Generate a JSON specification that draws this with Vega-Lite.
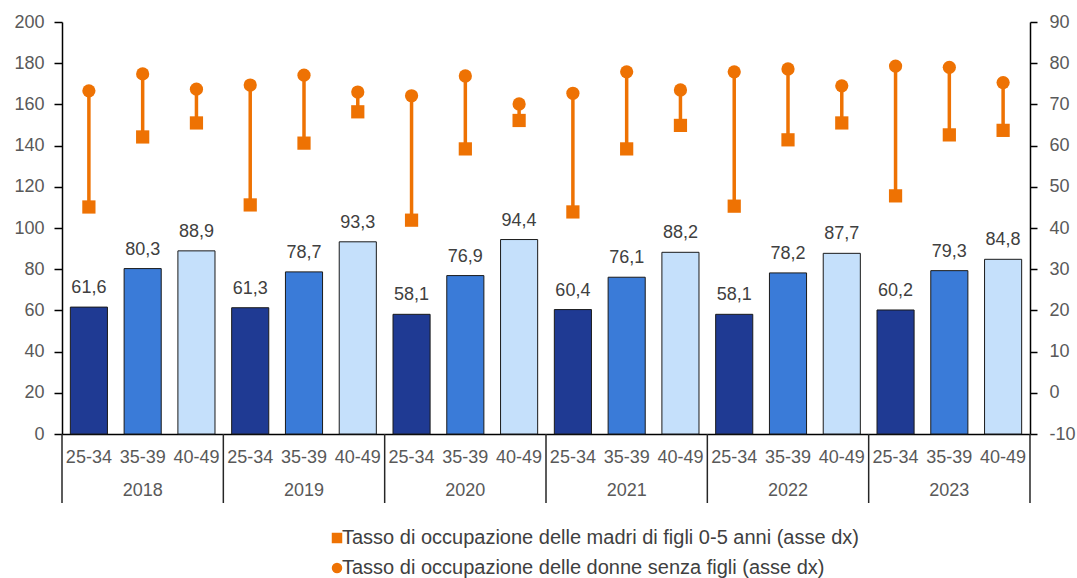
{
  "$schema": "https://vega.github.io/schema/vega-lite/v6.json",
  "autosize": {"type": "none"},
  "width": 968,
  "height": 412,
  "padding": {"left": 62, "top": 22, "right": 47, "bottom": 144},
  "background": "#ffffff",
  "config": {
    "view": {"stroke": null},
    "font": "Liberation Sans",
    "locale": {
      "number": {"decimal": ",", "thousands": ".", "grouping": [3], "currency": ["", " €"], "minus": "-"}
    },
    "axis": {
      "labelFont": "Liberation Sans",
      "labelFontSize": 18,
      "labelColor": "#595959",
      "domainColor": "#000000",
      "tickColor": "#000000",
      "grid": false,
      "title": null
    }
  },
  "datasets": {
    "occupazione": [
      {"cat": "2018|25-34", "year": "2018", "age": "25-34", "occ": 61.6, "madri": 45.1, "donne": 73.3},
      {"cat": "2018|35-39", "year": "2018", "age": "35-39", "occ": 80.3, "madri": 62.1, "donne": 77.4},
      {"cat": "2018|40-49", "year": "2018", "age": "40-49", "occ": 88.9, "madri": 65.5, "donne": 73.7},
      {"cat": "2019|25-34", "year": "2019", "age": "25-34", "occ": 61.3, "madri": 45.6, "donne": 74.7},
      {"cat": "2019|35-39", "year": "2019", "age": "35-39", "occ": 78.7, "madri": 60.6, "donne": 77.1},
      {"cat": "2019|40-49", "year": "2019", "age": "40-49", "occ": 93.3, "madri": 68.2, "donne": 73.0},
      {"cat": "2020|25-34", "year": "2020", "age": "25-34", "occ": 58.1, "madri": 41.9, "donne": 72.1},
      {"cat": "2020|35-39", "year": "2020", "age": "35-39", "occ": 76.9, "madri": 59.2, "donne": 76.9},
      {"cat": "2020|40-49", "year": "2020", "age": "40-49", "occ": 94.4, "madri": 66.1, "donne": 70.1},
      {"cat": "2021|25-34", "year": "2021", "age": "25-34", "occ": 60.4, "madri": 43.9, "donne": 72.7},
      {"cat": "2021|35-39", "year": "2021", "age": "35-39", "occ": 76.1, "madri": 59.2, "donne": 77.9},
      {"cat": "2021|40-49", "year": "2021", "age": "40-49", "occ": 88.2, "madri": 64.9, "donne": 73.5},
      {"cat": "2022|25-34", "year": "2022", "age": "25-34", "occ": 58.1, "madri": 45.3, "donne": 77.9},
      {"cat": "2022|35-39", "year": "2022", "age": "35-39", "occ": 78.2, "madri": 61.4, "donne": 78.6},
      {"cat": "2022|40-49", "year": "2022", "age": "40-49", "occ": 87.7, "madri": 65.5, "donne": 74.5},
      {"cat": "2023|25-34", "year": "2023", "age": "25-34", "occ": 60.2, "madri": 47.8, "donne": 79.3},
      {"cat": "2023|35-39", "year": "2023", "age": "35-39", "occ": 79.3, "madri": 62.6, "donne": 79.0},
      {"cat": "2023|40-49", "year": "2023", "age": "40-49", "occ": 84.8, "madri": 63.7, "donne": 75.3}
    ]
  },
  "data": {"name": "occupazione"},
  "layer": [
    {
      "layer": [
        {
          "mark": {"type": "bar", "stroke": "#1a1a1a", "strokeWidth": 1},
          "encoding": {
            "x": {
              "field": "cat",
              "type": "nominal",
              "sort": null,
              "scale": {"paddingInner": 0.31, "paddingOuter": 0.155},
              "axis": {
                "labelExpr": "split(datum.value, '|')[1]",
                "ticks": false,
                "tickSize": 0,
                "labelPadding": 14,
                "labelAngle": 0,
                "labelBaseline": "top",
                "domainWidth": 1.5
              }
            },
            "y": {
              "field": "occ",
              "type": "quantitative",
              "scale": {"domain": [0, 200], "nice": false},
              "axis": {
                "orient": "left",
                "values": [0, 20, 40, 60, 80, 100, 120, 140, 160, 180, 200],
                "tickSize": 8,
                "tickWidth": 1.5,
                "labelPadding": 10,
                "domainWidth": 1.5
              }
            },
            "color": {
              "field": "age",
              "type": "nominal",
              "scale": {"domain": ["25-34", "35-39", "40-49"], "range": ["#1f3a93", "#3a7bd8", "#c5e0fb"]},
              "legend": null
            }
          }
        },
        {
          "mark": {"type": "text", "baseline": "alphabetic", "dy": -14, "fontSize": 18, "color": "#404040"},
          "encoding": {
            "x": {"field": "cat", "type": "nominal", "sort": null},
            "y": {"field": "occ", "type": "quantitative"},
            "text": {"field": "occ", "type": "quantitative", "format": ".1f"}
          }
        },
        {
          "transform": [{"filter": "datum.age == '25-34'"}],
          "mark": {"type": "rule", "color": "#262626", "strokeWidth": 1.5},
          "encoding": {
            "x": {"field": "cat", "type": "nominal", "sort": null, "bandPosition": -0.2246},
            "y": {"datum": 0},
            "y2": {"datum": -33.5}
          }
        },
        {
          "transform": [{"filter": "datum.cat == '2023|40-49'"}],
          "mark": {"type": "rule", "color": "#262626", "strokeWidth": 1.5},
          "encoding": {
            "x": {"field": "cat", "type": "nominal", "sort": null, "bandPosition": 1.2246},
            "y": {"datum": 0},
            "y2": {"datum": -33.5}
          }
        },
        {
          "transform": [{"filter": "datum.age == '35-39'"}],
          "mark": {"type": "text", "baseline": "middle", "fontSize": 18, "color": "#595959"},
          "encoding": {
            "x": {"field": "cat", "type": "nominal", "sort": null},
            "y": {"datum": -27.7},
            "text": {"field": "year", "type": "nominal"}
          }
        }
      ]
    },
    {
      "layer": [
        {
          "mark": {"type": "rule", "color": "#ee7203", "strokeWidth": 3.5},
          "encoding": {
            "x": {"field": "cat", "type": "nominal", "sort": null},
            "y": {
              "field": "madri",
              "type": "quantitative",
              "scale": {"domain": [-10, 90], "nice": false},
              "axis": {
                "orient": "right",
                "values": [-10, 0, 10, 20, 30, 40, 50, 60, 70, 80, 90],
                "tickSize": 7,
                "tickWidth": 1.5,
                "labelPadding": 12,
                "domainWidth": 1.5
              }
            },
            "y2": {"field": "donne"}
          }
        },
        {
          "transform": [{"fold": ["madri", "donne"], "as": ["serie", "valore"]}],
          "mark": {"type": "point", "filled": true, "opacity": 1, "color": "#ee7203", "size": 175},
          "encoding": {
            "x": {"field": "cat", "type": "nominal", "sort": null},
            "y": {"field": "valore", "type": "quantitative"},
            "shape": {
              "field": "serie",
              "type": "nominal",
              "scale": {"domain": ["madri", "donne"], "range": ["square", "circle"]},
              "legend": {
                "orient": "none",
                "legendX": 265,
                "legendY": 506,
                "direction": "vertical",
                "title": null,
                "padding": 0,
                "labelFont": "Liberation Sans",
                "labelFontSize": 20,
                "labelColor": "#404040",
                "labelLimit": 0,
                "labelOffset": -5,
                "rowPadding": 10,
                "symbolSize": 110,
                "symbolFillColor": "#ee7203",
                "symbolStrokeColor": "#ee7203",
                "symbolStrokeWidth": 0,
                "labelExpr": "datum.value == 'madri' ? 'Tasso di occupazione delle madri di figli 0-5 anni (asse dx)' : 'Tasso di occupazione delle donne senza figli (asse dx)'"
              }
            }
          }
        }
      ]
    }
  ],
  "resolve": {"scale": {"y": "independent"}}
}
